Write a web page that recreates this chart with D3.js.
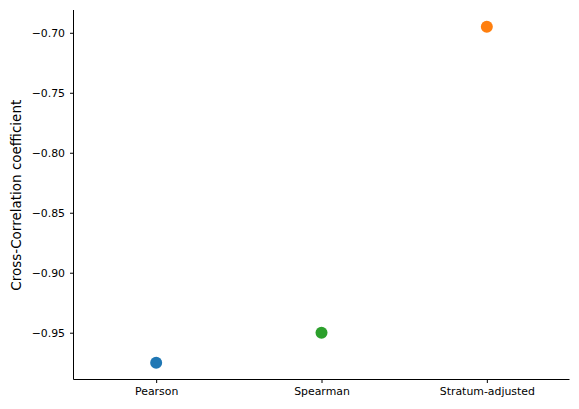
<!DOCTYPE html>
<html><head><meta charset="utf-8">
<script src="https://cdn.jsdelivr.net/npm/d3@7"></script>
<style>body{margin:0;background:#fff}svg{display:block}text{font-family:"DejaVu Sans",sans-serif}</style>
</head><body><svg id="c" width="579" height="409"></svg>
<script>
const categories = ["Pearson", "Spearman", "Stratum-adjusted"];
const values = [-0.975, -0.95, -0.695];
const colors = ["#1f77b4", "#2ca02c", "#ff7f0e"];
const yTicks = [-0.95, -0.90, -0.85, -0.80, -0.75, -0.70];
const yLabel = "Cross-Correlation coefficient";

const svg = d3.select("#c");
const L = 73.5, R = 569.5, T = 10, B = 379.5;
const x = d3.scalePoint().domain(categories).range([L, R]).padding(0.5);
const y = d3.scaleLinear().domain([-0.989, -0.681]).range([B, T]);

const fmt = d => d3.format(".2f")(d).replace("-", "\u2212");
const gy = svg.append("g").attr("transform", `translate(${L},0)`)
  .call(d3.axisLeft(y).tickValues(yTicks).tickFormat(fmt).tickSize(3.5).tickPadding(5).tickSizeOuter(0));
const gx = svg.append("g").attr("transform", `translate(0,${B})`)
  .call(d3.axisBottom(x).tickSize(3.5).tickPadding(4).tickSizeOuter(0));
[gy, gx].forEach(g => {
  g.attr("font-family", "DejaVu Sans").attr("font-size", 10.9);
  g.select(".domain").attr("stroke", "#000").attr("stroke-width", 1);
  g.selectAll(".tick line").attr("stroke", "#000").attr("stroke-width", 1);
  g.selectAll("text").attr("fill", "#000");
});
gy.select(".domain").attr("d", `M0,${B}V${T}`);
gx.select(".domain").attr("d", `M${L},0H${R}`);

svg.append("text").attr("transform", `translate(20.5,${(T + B) / 2 + 0.5}) rotate(-90)`)
  .attr("text-anchor", "middle").attr("font-family", "DejaVu Sans").attr("font-size", 13.5)
  .attr("fill", "#000").text(yLabel);

svg.selectAll("circle.pt").data(categories).enter().append("circle")
  .attr("class", "pt")
  .attr("cx", d => x(d))
  .attr("cy", (d, i) => y(values[i]))
  .attr("r", 6)
  .attr("fill", (d, i) => colors[i]);
</script></body></html>
